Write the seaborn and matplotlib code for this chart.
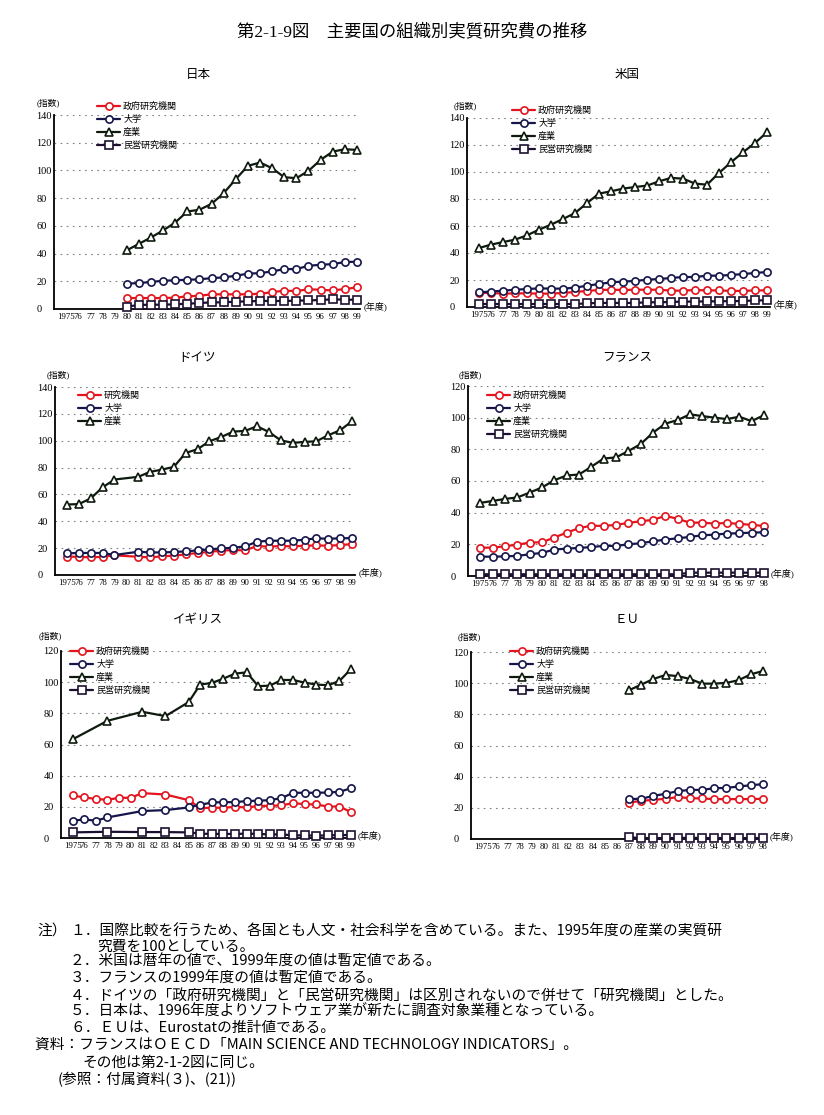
import numpy as np
import pandas as pd
import matplotlib
matplotlib.use("Agg")
import matplotlib.pyplot as plt
import seaborn as sns

# ── 0. STYLE ────────────────────────────────────────────────────────
sns.set_theme(style="white", rc={"text.color": "black", "axes.labelcolor": "black",
                                 "xtick.color": "black", "ytick.color": "black"})
plt.rcParams['font.family'] = ['Liberation Serif', 'Noto Sans CJK JP', 'DejaVu Sans']

N = np.nan

# ── 1. DATA (index, 1995年度の産業 = 100) ───────────────────────────
year_labels = ['1975', '76', '77', '78', '79', '80', '81', '82', '83', '84', '85', '86', '87',
               '88', '89', '90', '91', '92', '93', '94', '95', '96', '97', '98', '99']

series_names = ['政府研究機関', '大学', '産業', '民営研究機関']

# 日本 (1975-1999)
jp_gov  = [N, N, N, N, N, 7.9, 7.9, 7.9, 7.9, 8.2, 9.1, 9.6, 10.6, 10.6, 10.6, 10.6, 11.0, 12.2,
           13.2, 13.0, 14.2, 13.9, 13.4, 14.4, 15.6]
jp_univ = [N, N, N, N, N, 18.3, 18.7, 19.5, 20.4, 20.7, 21.1, 21.4, 22.3, 22.8, 24.0, 25.5, 25.9,
           27.1, 28.8, 28.8, 31.2, 31.9, 32.4, 33.9, 34.1]
jp_ind  = [N, N, N, N, N, 42.3, 47.0, 51.6, 56.7, 62.4, 70.4, 71.6, 75.9, 83.6, 93.7, 103.3, 105.7,
           101.6, 95.1, 94.4, 99.7, 107.6, 113.6, 115.3, 114.8]
jp_priv = [N, N, N, N, N, 1.7, 2.9, 3.1, 3.1, 3.4, 3.8, 4.3, 4.8, 4.8, 5.3, 5.5, 5.8, 5.8, 5.8,
           6.0, 6.2, 6.5, 7.0, 6.7, 6.7]

# 米国 (1975-1999)
us_gov  = [10.4, 10.4, 9.9, 10.1, 10.1, 9.9, 9.9, 10.4, 11.1, 11.9, 12.6, 12.8, 12.6, 12.8, 12.8,
           12.8, 12.1, 12.1, 12.6, 12.3, 12.3, 11.9, 11.9, 12.3, 12.3]
us_univ = [10.9, 11.4, 12.1, 12.8, 13.3, 13.8, 13.6, 13.6, 14.3, 15.8, 17.0, 18.3, 18.8, 19.3, 20.2,
           20.7, 21.5, 22.2, 22.2, 23.2, 23.2, 23.7, 24.4, 25.2, 25.9]
us_ind  = [43.7, 46.2, 48.1, 49.9, 53.1, 57.3, 61.0, 65.2, 69.6, 77.0, 84.0, 85.7, 87.7, 88.9, 89.9,
           93.1, 95.6, 95.1, 91.4, 90.6, 99.3, 107.2, 114.6, 121.5, 129.4]
us_priv = [2.2, 2.2, 2.2, 2.2, 2.2, 2.2, 2.2, 2.2, 2.2, 2.7, 3.0, 3.0, 3.0, 3.0, 3.5, 3.5, 3.7,
           4.0, 4.0, 4.2, 4.2, 4.4, 4.4, 4.9, 4.9]

# ドイツ (1975-1999, 1980 なし)
de_inst = [13.6, 13.6, 13.1, 13.6, 14.6, N, 13.6, 13.1, 13.9, 14.4, 15.4, 16.4, 17.3, 18.1, 18.6,
           18.3, 21.6, 21.1, 21.6, 21.3, 21.8, 22.0, 21.8, 22.3, 23.0]
de_univ = [16.1, 16.4, 16.4, 16.4, 14.9, N, 17.3, 16.8, 16.8, 17.1, 17.6, 18.3, 19.1, 19.8, 20.3,
           21.3, 24.8, 25.5, 25.5, 25.5, 26.3, 27.3, 27.0, 27.3, 27.5]
de_ind  = [52.5, 52.8, 57.0, 65.2, 71.1, N, 73.1, 76.8, 78.5, 80.5, 90.9, 93.7, 99.6, 102.8, 106.8,
           107.3, 110.8, 106.5, 100.3, 98.4, 99.1, 99.6, 104.1, 107.8, 114.5]

# フランス (1975-1998)
fr_gov  = [17.9, 17.9, 18.8, 19.8, 21.1, 21.3, 24.3, 27.4, 30.2, 31.8, 31.6, 32.3, 33.5, 34.6, 35.4,
           38.0, 36.1, 33.7, 33.7, 33.1, 33.5, 32.9, 32.3, 31.6]
fr_univ = [12.2, 12.2, 12.4, 12.7, 13.7, 14.6, 16.7, 17.3, 17.7, 18.3, 19.0, 19.0, 20.0, 20.7, 21.9,
           23.0, 23.8, 24.7, 25.7, 26.1, 26.8, 27.0, 27.4, 27.6]
fr_ind  = [46.2, 47.4, 48.7, 49.6, 52.7, 55.9, 60.5, 63.5, 64.1, 69.0, 74.2, 74.9, 78.9, 83.3, 90.5,
           96.2, 98.5, 102.1, 101.0, 100.0, 99.1, 100.6, 97.8, 101.6]
fr_priv = [1.1, 1.1, 1.1, 1.1, 1.1, 1.1, 1.1, 1.1, 1.1, 1.1, 1.1, 1.1, 1.1, 1.1, 1.1, 1.1, 1.1,
           2.1, 2.1, 2.1, 2.1, 2.1, 2.1, 2.1]

# イギリス (1975-1999, 欠測年あり)
uk_gov  = [27.3, 26.0, 25.1, 24.5, 25.8, 25.8, 28.8, N, 27.9, N, 24.3, 19.2, 19.4, 19.4, 20.0,
           19.6, 20.5, 20.7, 20.9, 22.4, 21.7, 21.5, 20.2, 20.2, 16.6]
uk_univ = [11.1, 11.9, 11.1, 13.2, N, N, 17.3, N, 17.9, N, 19.6, 21.3, 22.8, 23.0, 23.0,
           23.7, 23.9, 24.3, 25.6, 29.0, 29.0, 29.0, 29.2, 29.6, 32.0]
uk_ind  = [63.3, N, N, 75.2, N, N, 81.0, N, 78.2, N, 87.2, 98.5, 99.5, 102.3, 105.5,
           106.3, 97.4, 97.8, 101.4, 101.4, 99.7, 98.5, 98.0, 100.8, 108.5]
uk_priv = [3.6, N, N, 4.0, N, N, 3.8, N, 3.8, N, 3.6, 2.8, 2.6, 2.6, 2.6,
           2.8, 2.6, 2.3, 2.3, 1.7, 1.7, 1.5, 1.7, 1.9, 1.9]

# EU (1975-1998, 1987年から)
eu_gov  = [N, N, N, N, N, N, N, N, N, N, N, N, 23.4, 24.5, 25.1, 25.8, 26.9, 26.2, 26.0, 25.6,
           25.6, 25.6, 25.6, 25.8]
eu_univ = [N, N, N, N, N, N, N, N, N, N, N, N, 25.6, 25.8, 27.7, 29.0, 30.7, 31.5, 31.5, 32.6,
           32.8, 33.7, 34.5, 35.2]
eu_ind  = [N, N, N, N, N, N, N, N, N, N, N, N, 95.5, 99.1, 102.7, 105.3, 104.5, 102.7, 99.7, 99.7,
           100.2, 101.9, 105.7, 107.8]
eu_priv = [N, N, N, N, N, N, N, N, N, N, N, N, 1.1, 0.6, 0.6, 0.6, 0.6, 0.8, 0.6, 0.6,
           0.6, 0.6, 0.6, 0.6]

# ── 2. STYLES & LAYOUT (pixels of an 824x1115 canvas) ──────────────
W, H = 824, 1115
colors  = {'政府研究機関': '#e3141e', '研究機関': '#e3141e', '大学': '#16164a',
           '産業': '#0f1a0f', '民営研究機関': '#1c1030'}
markers = {'政府研究機関': 'o', '研究機関': 'o', '大学': 'o', '産業': '^', '民営研究機関': 's'}
msizes  = {'o': 5.2, '^': 6.0, 's': 5.4}

panels = [
    dict(title='日本', data=[jp_gov, jp_univ, jp_ind, jp_priv], names=series_names,
         box=(54, 360, 115, 309), ymax=140, tx=198, ty=75, leg=(97, 102), unit=(48, 103)),
    dict(title='米国', data=[us_gov, us_univ, us_ind, us_priv], names=series_names,
         box=(467, 770, 118, 307), ymax=140, tx=627, ty=75, leg=(512, 106), unit=(465, 106)),
    dict(title='ドイツ', data=[de_inst, de_univ, de_ind], names=['研究機関', '大学', '産業'],
         box=(55, 355, 387, 575), ymax=140, tx=197, ty=358, leg=(78, 391), unit=(58, 375)),
    dict(title='フランス', data=[fr_gov, fr_univ, fr_ind, fr_priv], names=series_names,
         box=(468, 767, 386, 576), ymax=120, tx=627, ty=358, leg=(487, 391), unit=(470, 375)),
    dict(title='イギリス', data=[uk_gov, uk_univ, uk_ind, uk_priv], names=series_names,
         box=(61, 354, 651, 838), ymax=120, tx=198, ty=620, leg=(70, 647), unit=(50, 636)),
    dict(title='ＥＵ', data=[eu_gov, eu_univ, eu_ind, eu_priv], names=series_names,
         box=(471, 766, 652, 839), ymax=120, tx=627, ty=620, leg=(510, 647), unit=(469, 637)),
]

fig = plt.figure(figsize=(W / 100, H / 100), dpi=100)
fig.patch.set_facecolor('white')

fig.text(412 / W, 1 - 32 / H, '第2-1-9図　主要国の組織別実質研究費の推移',
         ha='center', va='center', fontsize=12.5)

# ── 3. PANELS ───────────────────────────────────────────────────────
for p in panels:
    L, R, T, B = p['box']
    ax = fig.add_axes([L / W, 1 - B / H, (R - L) / W, (B - T) / H])
    n = len(p['data'][0])

    for name, vals in zip(p['names'], p['data']):
        d = pd.DataFrame({'x': np.arange(n), 'v': vals}).dropna()
        m = markers[name]
        sns.lineplot(data=d, x='x', y='v', ax=ax, color=colors[name], linewidth=1.6,
                     marker=m, markersize=msizes[m], markerfacecolor='white',
                     markeredgecolor=colors[name], markeredgewidth=1.2,
                     errorbar=None, label=name, legend=False, clip_on=False, zorder=3)

    ax.set_xlim(-1, n - 0.75)
    ax.set_ylim(0, p['ymax'])
    ax.set_xticks(np.arange(n))
    ax.set_xticklabels(year_labels[:n])
    ax.set_yticks(np.arange(0, p['ymax'] + 1, 20))
    ax.set_xlabel('')
    ax.set_ylabel('')
    ax.tick_params(axis='x', direction='in', length=2.5, width=0.8, labelsize=6.3, pad=3)
    ax.tick_params(axis='y', length=0, labelsize=7.5, pad=12.5)
    for lab in ax.get_yticklabels():
        lab.set_ha('left')

    ax.yaxis.grid(True, linestyle=(0, (1.5, 4)), color='#808080', linewidth=0.8)
    ax.xaxis.grid(False)
    sns.despine(ax=ax)
    for s in ['left', 'bottom']:
        ax.spines[s].set_color('black')
        ax.spines[s].set_linewidth(1.3)
    ax.set_facecolor('none')

    ax.legend(loc='upper left', bbox_to_anchor=(p['leg'][0] / W, 1 - p['leg'][1] / H),
              bbox_transform=fig.transFigure, frameon=False, fontsize=6.5,
              handlelength=2.6, handletextpad=0.3, labelspacing=0.42,
              borderpad=0, borderaxespad=0)

    fig.text(p['tx'] / W, 1 - p['ty'] / H, p['title'], ha='center', va='center', fontsize=9)
    fig.text(p['unit'][0] / W, 1 - p['unit'][1] / H, '(指数)', ha='center', va='center',
             fontsize=6.3)
    ax.text(1.012, 0.012, '(年度)', transform=ax.transAxes, ha='left', va='center',
            fontsize=6.5)

# ── 4. NOTES ────────────────────────────────────────────────────────
note_fs = 10.6
fig.text(37 / W, 1 - 932 / H, '注）', ha='left', va='center', fontsize=note_fs)
notes = [
    (70, 932, '１．国際比較を行うため、各国とも人文・社会科学を含めている。また、1995年度の産業の実質研'),
    (97, 947, '究費を100としている。'),
    (70, 962, '２．米国は暦年の値で、1999年度の値は暫定値である。'),
    (70, 979, '３．フランスの1999年度の値は暫定値である。'),
    (70, 996, '４．ドイツの「政府研究機関」と「民営研究機関」は区別されないので併せて「研究機関」とした。'),
    (70, 1012, '５．日本は、1996年度よりソフトウェア業が新たに調査対象業種となっている。'),
    (70, 1028, '６．ＥＵは、Eurostatの推計値である。'),
    (35, 1045, '資料：フランスはＯＥＣＤ「MAIN SCIENCE AND TECHNOLOGY INDICATORS」。'),
    (82, 1063, 'その他は第2-1-2図に同じ。'),
    (58, 1080, '(参照：付属資料(３)、(21))'),
]
for x, y, t in notes:
    fig.text(x / W, 1 - y / H, t, ha='left', va='center', fontsize=note_fs,
             family=['Noto Sans CJK JP', 'DejaVu Sans'])

plt.savefig('out.png', dpi=100, facecolor='white')
